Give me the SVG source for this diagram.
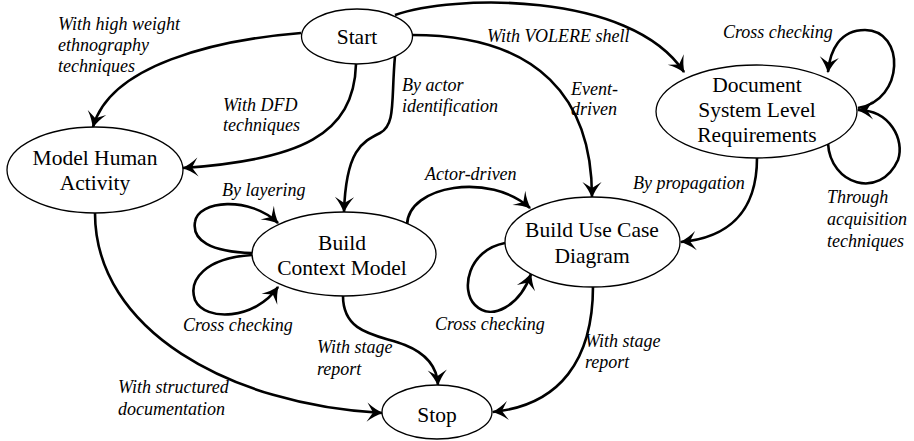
<svg xmlns="http://www.w3.org/2000/svg" width="914" height="441" viewBox="0 0 914 441">
  <style>
    .node ellipse { fill: #fff; stroke: #000; stroke-width: 1.3; }
    .nt { font-size: 21.5px; fill: #000; text-anchor: middle; }
    .edge { fill: none; stroke: #000; stroke-width: 2.6; marker-end: url(#arr); }
    .lbl { font-style: italic; font-size: 18px; fill: #000; }
  </style>
  <defs>
    <marker id="arr" markerUnits="userSpaceOnUse" markerWidth="24" markerHeight="24" viewBox="-14 -10 16 20" refX="0" refY="0" orient="auto">
      <path d="M1,0 Q-6,-2.5 -12.5,-8 L-7.5,0 L-12.5,8 Q-6,2.5 1,0 Z" fill="#000"/>
    </marker>
  </defs>

  <!-- connectors -->
  <g id="connectors">
    <path class="edge" d="M 301,33 C 215,40 110,65 93,127"/>
    <path class="edge" d="M 356,64 C 354,135 300,160 183,168"/>
    <path class="edge" d="M 395,56 C 391,100 396,125 380,133 C 362,142 346,150 344,212"/>
    <path class="edge" d="M 412,35 C 540,35 592,100 592,197"/>
    <path class="edge" d="M 395,15 C 450,-5 630,-10 684,72"/>
    <path class="edge" d="M 858,108 C 905,100 905,30 865,30 C 840,30 830,50 828,72"/>
    <path class="edge" d="M 828,143 C 830,185 880,200 898,160 C 905,140 890,110 858,110"/>
    <path class="edge" d="M 757,158 C 757,215 725,238 681,242"/>
    <path class="edge" d="M 407,225 C 408,185 490,172 530,208"/>
    <path class="edge" d="M 252,253 C 210,252 192,240 195,222 C 198,200 250,196 278,223"/>
    <path class="edge" d="M 252,255 C 205,258 188,280 195,300 C 205,322 255,320 278,287"/>
    <path class="edge" d="M 505,243 C 468,250 460,290 475,305 C 492,322 520,305 531,274"/>
    <path class="edge" d="M 343,296 C 343,335 380,335 405,345 C 425,353 437,365 438,385"/>
    <path class="edge" d="M 593,286 C 593,360 560,405 493,412"/>
    <path class="edge" d="M 95,213 C 95,330 230,405 382,413"/>
  </g>

  <!-- connector labels -->
  <g id="labels" font-family="Liberation Serif, Times New Roman, serif">
    <text class="lbl" x="58" y="30">With high weight</text>
    <text class="lbl" x="58" y="51">ethnography</text>
    <text class="lbl" x="58" y="72">techniques</text>
    <text class="lbl" x="223" y="111">With DFD</text>
    <text class="lbl" x="223" y="131">techniques</text>
    <text class="lbl" x="402" y="91">By actor</text>
    <text class="lbl" x="402" y="112">identification</text>
    <text class="lbl" x="571" y="95">Event-</text>
    <text class="lbl" x="571" y="115">driven</text>
    <text class="lbl" x="487" y="42">With VOLERE shell</text>
    <text class="lbl" x="723" y="38">Cross checking</text>
    <text class="lbl" x="827" y="203">Through</text>
    <text class="lbl" x="827" y="225">acquisition</text>
    <text class="lbl" x="827" y="247">techniques</text>
    <text class="lbl" x="633" y="189">By propagation</text>
    <text class="lbl" x="425" y="180">Actor-driven</text>
    <text class="lbl" x="222" y="196">By layering</text>
    <text class="lbl" x="183" y="331">Cross checking</text>
    <text class="lbl" x="435" y="330">Cross checking</text>
    <text class="lbl" x="317" y="353">With stage</text>
    <text class="lbl" x="317" y="375">report</text>
    <text class="lbl" x="585" y="347">With stage</text>
    <text class="lbl" x="585" y="368">report</text>
    <text class="lbl" x="118" y="393">With structured</text>
    <text class="lbl" x="118" y="415">documentation</text>
  </g>

  <!-- nodes -->
  <g id="nodes" font-family="Liberation Serif, Times New Roman, serif">
    <g id="start" class="node">
      <ellipse cx="357" cy="36.5" rx="55.5" ry="27.5"/>
      <text class="nt" x="357" y="44">Start</text>
    </g>
    <g id="model-human-activity" class="node">
      <ellipse cx="95" cy="170" rx="88" ry="43"/>
      <text class="nt" x="95" y="165">Model Human</text>
      <text class="nt" x="95" y="190">Activity</text>
    </g>
    <g id="build-context-model" class="node">
      <ellipse cx="344" cy="254" rx="92" ry="42"/>
      <text class="nt" x="342" y="250">Build</text>
      <text class="nt" x="342" y="275">Context Model</text>
    </g>
    <g id="build-use-case-diagram" class="node">
      <ellipse cx="592.5" cy="242" rx="87.5" ry="45"/>
      <text class="nt" x="592" y="237">Build Use Case</text>
      <text class="nt" x="592" y="263">Diagram</text>
    </g>
    <g id="document-system-level-requirements" class="node">
      <ellipse cx="756.5" cy="111.5" rx="100.5" ry="46.5"/>
      <text class="nt" x="757" y="92">Document</text>
      <text class="nt" x="757" y="117">System Level</text>
      <text class="nt" x="757" y="142">Requirements</text>
    </g>
    <g id="stop" class="node">
      <ellipse cx="437" cy="412" rx="55" ry="27"/>
      <text class="nt" x="437" y="422">Stop</text>
    </g>
  </g>
</svg>
